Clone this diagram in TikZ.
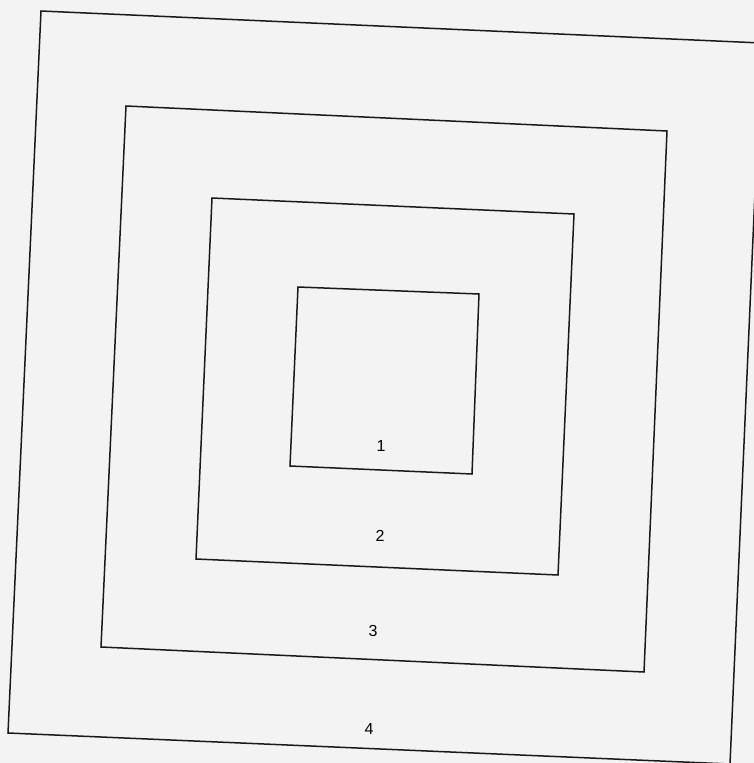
\documentclass[tikz,border=0pt]{standalone}
\usepackage{fontspec}
\setmainfont{Liberation Sans}
\definecolor{paper}{HTML}{F3F3F3}
\begin{document}
\begin{tikzpicture}[x=1pt,y=-1pt,
  frame/.style={draw=black!90,line width=1.5pt,line join=miter},
  lbl/.style={font=\fontsize{16}{18}\selectfont,inner sep=0pt}]
\fill[paper] (0,0) rectangle (754,763);
\useasboundingbox (0,0) rectangle (754,763);
% square 4
\draw[frame] (41,11) -- (761.5,43) -- (730,764) -- (8,733) -- cycle;
% square 3
\draw[frame] (126,106) -- (667,131) -- (644,672) -- (101,647) -- cycle;
% square 2
\draw[frame] (212,198) -- (574,214) -- (558,575) -- (196,559) -- cycle;
% square 1
\draw[frame] (298,287) -- (479,294) -- (472,474) -- (290,466) -- cycle;
\node[lbl] (l1) at (381,446) {1};
\node[lbl] (l2) at (380,536) {2};
\node[lbl] (l3) at (373,631) {3};
\node[lbl] (l4) at (369,729) {4};
\end{tikzpicture}
\end{document}
